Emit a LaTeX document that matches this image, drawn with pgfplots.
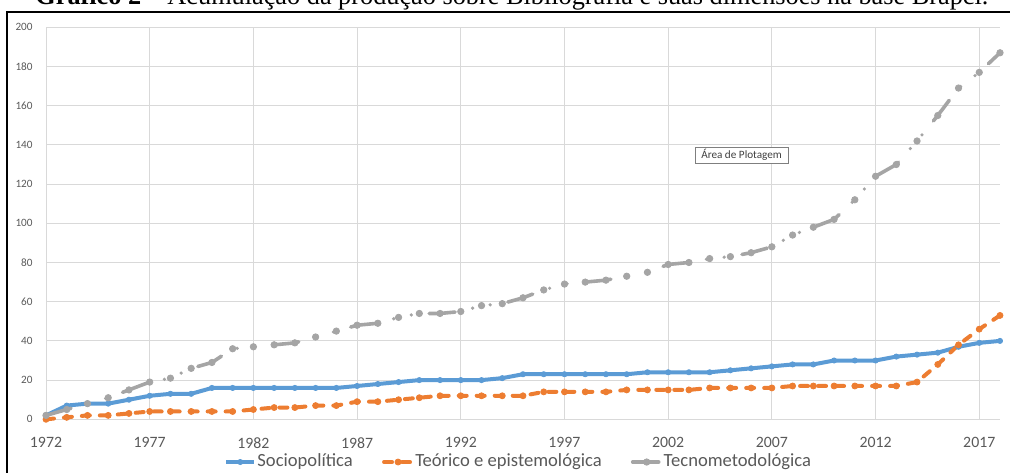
\documentclass[border=0pt]{standalone}
\usepackage{fontspec}
\setmainfont{Carlito}
\newfontfamily\titlefont{Liberation Serif}
\usepackage{pgfplots}
\usepackage{pgfplotstable}
\pgfplotsset{compat=1.18}
\usetikzlibrary{shadows}

\definecolor{cblue}{HTML}{5B9BD5}
\definecolor{corange}{HTML}{ED7D31}
\definecolor{cgray}{HTML}{A5A5A5}
\definecolor{cgrid}{HTML}{D9D9D9}
\definecolor{ctext}{HTML}{595959}
\definecolor{cbox}{HTML}{7F7F7F}

% ano, Sociopolitica, Teorico e epistemologica, Tecnometodologica (acumulado)
\pgfplotstableread{
year soc teo tec
1972  2  0   2
1973  7  1   5
1974  8  2   8
1975  8  2  11
1976 10  3  15
1977 12  4  19
1978 13  4  21
1979 13  4  26
1980 16  4  29
1981 16  4  36
1982 16  5  37
1983 16  6  38
1984 16  6  39
1985 16  7  42
1986 16  7  45
1987 17  9  48
1988 18  9  49
1989 19 10  52
1990 20 11  54
1991 20 12  54
1992 20 12  55
1993 20 12  58
1994 21 12  59
1995 23 12  62
1996 23 14  66
1997 23 14  69
1998 23 14  70
1999 23 14  71
2000 23 15  73
2001 24 15  75
2002 24 15  79
2003 24 15  80
2004 24 16  82
2005 25 16  83
2006 26 16  85
2007 27 16  88
2008 28 17  94
2009 28 17  98
2010 30 17 102
2011 30 17 112
2012 30 17 124
2013 32 17 130
2014 33 19 142
2015 34 28 155
2016 37 38 169
2017 39 46 177
2018 40 53 187
}\dados

\newcommand\titulo{\textbf{Gráfico 2} – Acumulação da produção sobre Bibliografia e suas dimensões na base Brapci.}
\newlength\tw

\begin{document}
\settowidth{\tw}{\titlefont\fontsize{10}{12}\selectfont\titulo}%
\pgfmathsetmacro\tsize{10*476.5/\tw}%
\begin{tikzpicture}
\clip (0,0) rectangle (505pt,236pt);
\node[anchor=base west, inner sep=0pt, font=\titlefont\fontsize{\tsize}{\tsize}\selectfont] at (17.5pt,233.5pt) {\titulo};
\draw[line width=1.1pt] (3.6pt,-2pt) -- (3.6pt,230pt) -- (510pt,230pt);
\begin{axis}[
    at={(23pt,26.35pt)}, anchor=south west,
    scale only axis, width=477pt, height=196pt,
    xmin=1972, xmax=2018, ymin=0, ymax=200,
    xtick={1972,1977,...,2017},
    ytick={0,20,...,200},
    grid=major,
    major grid style={draw=cgrid, line width=0.5pt},
    axis line style={draw=none},
    major tick length=0pt,
    /pgf/number format/assume math mode=true,
    tick label style={text=ctext},
    xticklabel style={font=\fontsize{7.9}{9}\selectfont, /pgf/number format/1000 sep={}, anchor=north, inner sep=0pt, yshift=-8.9pt},
    yticklabel style={font=\fontsize{5.6}{7}\selectfont, anchor=east, inner sep=0pt, xshift=-6.5pt},
    clip=false,
    legend columns=-1,
    legend style={at={(0.495,-0.109)}, anchor=center, draw=none, fill=none,
        font=\fontsize{9.3}{10}\selectfont, text=ctext,
        nodes={inner sep=0.6pt},
        /tikz/every even column/.append style={column sep=14pt}},
    legend image code/.code={\draw[mark repeat=2, mark phase=2, #1] plot coordinates {(0pt,0pt) (7pt,0pt) (14pt,0pt)};},
]
\addplot[cblue, line width=2pt, line join=round, mark=*, mark size=1.3pt, mark options={solid, line width=0.4pt}] table[x=year, y=soc] {\dados};
\addlegendentry{Sociopolítica}
\addplot[corange, line width=2pt, line cap=round, dash pattern=on 4pt off 5pt, mark=*, mark size=1.5pt, mark options={solid, line width=0.4pt}] table[x=year, y=teo] {\dados};
\addlegendentry{Teórico e epistemológica}
\addplot[cgray, line width=1.8pt, line cap=round, dash pattern=on 13pt off 9pt on 0pt off 9pt on 0pt off 9pt, mark=*, mark size=1.6pt, mark options={solid, line width=0.4pt}] table[x=year, y=tec] {\dados};
\addlegendentry{Tecnometodológica}
\node[draw=cbox, fill=white, line width=0.5pt, drop shadow={shadow xshift=0.7pt, shadow yshift=-0.7pt, fill=black!35},
      font=\fontsize{5.6}{6.5}\selectfont, text=black!75, minimum width=46.5pt, minimum height=8pt, inner sep=1pt]
      at (2005.54,134.8) {Área de Plotagem};
\end{axis}
\end{tikzpicture}
\end{document}
